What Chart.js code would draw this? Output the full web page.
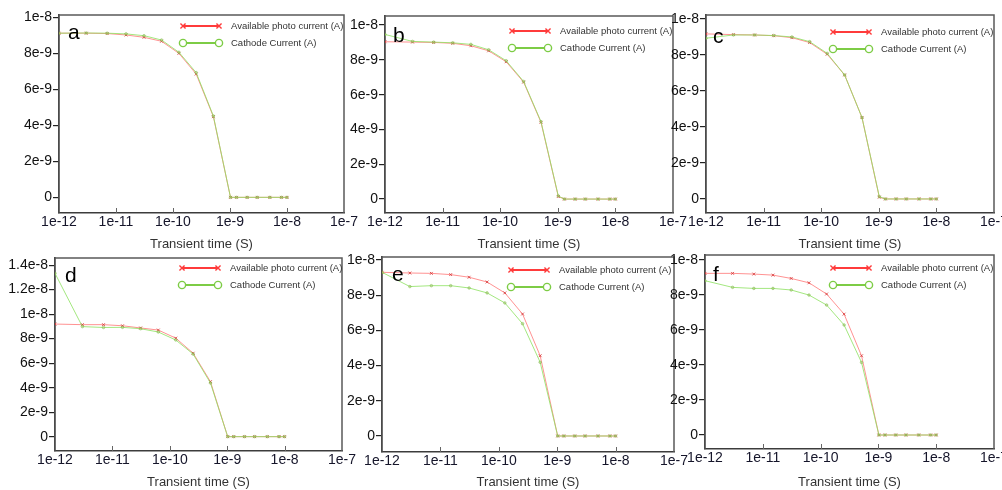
<!DOCTYPE html>
<html>
<head>
<meta charset="utf-8">
<script src="https://cdn.jsdelivr.net/npm/chart.js"></script>
<style>
  body { margin: 0; background: #fff; width: 1002px; height: 490px; overflow: hidden; position: relative; }
  canvas { position: absolute; }
</style>
</head>
<body>
<canvas id="pa"></canvas>
<canvas id="pb"></canvas>
<canvas id="pc"></canvas>
<canvas id="pd"></canvas>
<canvas id="pe"></canvas>
<canvas id="pf"></canvas>
<script>
// ---------------- data ----------------
const timeS = [1e-12, 3e-12, 7e-12, 1.5e-11, 3.1e-11, 6.3e-11, 1.27e-10, 2.55e-10, 5.11e-10, 1.02e-9, 1.3e-9, 2e-9, 3e-9, 5e-9, 8e-9, 1e-8];

const xTicks = [1e-12, 1e-11, 1e-10, 1e-9, 1e-8, 1e-7];
const xTickLabels = ["1e-12", "1e-11", "1e-10", "1e-9", "1e-8", "1e-7"];

const yTicks = [0, 2e-9, 4e-9, 6e-9, 8e-9, 1e-8];
const yTickLabels = ["0", "2e-9", "4e-9", "6e-9", "8e-9", "1e-8"];
const yTicksD = [0, 2e-9, 4e-9, 6e-9, 8e-9, 1e-8, 1.2e-8, 1.4e-8];
const yTickLabelsD = ["0", "2e-9", "4e-9", "6e-9", "8e-9", "1e-8", "1.2e-8", "1.4e-8"];

const seriesNames = ["Available photo current (A)", "Cathode Current (A)"];
const xTitle = "Transient time (S)";

const photoA   = [9.12e-9, 9.12e-9, 9.10e-9, 9.02e-9, 8.89e-9, 8.67e-9, 8.00e-9, 6.85e-9, 4.48e-9, 0, 0, 0, 0, 0, 0, 0];
const cathodeA = [9.12e-9, 9.13e-9, 9.12e-9, 9.08e-9, 8.98e-9, 8.74e-9, 8.06e-9, 6.93e-9, 4.52e-9, 0, 0, 0, 0, 0, 0, 0];

const photoB   = [9.04e-9, 9.02e-9, 9.00e-9, 8.95e-9, 8.81e-9, 8.52e-9, 7.89e-9, 6.72e-9, 4.41e-9, 0.15e-9, 0, 0, 0, 0, 0, 0];
const cathodeB = [9.46e-9, 9.06e-9, 9.02e-9, 8.98e-9, 8.89e-9, 8.58e-9, 7.95e-9, 6.76e-9, 4.45e-9, 0.18e-9, 0, 0, 0, 0, 0, 0];

const photoC   = [9.17e-9, 9.13e-9, 9.11e-9, 9.07e-9, 8.96e-9, 8.69e-9, 8.04e-9, 6.89e-9, 4.52e-9, 0.10e-9, 0, 0, 0, 0, 0, 0];
const cathodeC = [8.93e-9, 9.11e-9, 9.11e-9, 9.08e-9, 9.00e-9, 8.74e-9, 8.09e-9, 6.89e-9, 4.52e-9, 0.13e-9, 0, 0, 0, 0, 0, 0];

const photoD   = [9.19e-9, 9.14e-9, 9.14e-9, 9.05e-9, 8.87e-9, 8.70e-9, 8.04e-9, 6.81e-9, 4.49e-9, 0, 0, 0, 0, 0, 0, 0];
const cathodeD = [13.33e-9, 8.98e-9, 8.91e-9, 8.92e-9, 8.81e-9, 8.54e-9, 7.89e-9, 6.74e-9, 4.38e-9, 0, 0, 0, 0, 0, 0, 0];

const photoE   = [9.30e-9, 9.26e-9, 9.24e-9, 9.17e-9, 9.02e-9, 8.75e-9, 8.13e-9, 6.93e-9, 4.56e-9, 0, 0, 0, 0, 0, 0, 0];
const cathodeE = [9.30e-9, 8.49e-9, 8.54e-9, 8.54e-9, 8.41e-9, 8.13e-9, 7.56e-9, 6.38e-9, 4.19e-9, 0, 0, 0, 0, 0, 0, 0];

const photoF   = [9.24e-9, 9.24e-9, 9.20e-9, 9.14e-9, 8.95e-9, 8.70e-9, 8.06e-9, 6.91e-9, 4.53e-9, 0, 0, 0, 0, 0, 0, 0];
const cathodeF = [8.82e-9, 8.44e-9, 8.38e-9, 8.38e-9, 8.29e-9, 8.00e-9, 7.43e-9, 6.29e-9, 4.15e-9, 0, 0, 0, 0, 0, 0, 0];

// ---------------- layout (page pixels) ----------------
const FONT = "'Liberation Sans', Arial, sans-serif";

const panels = [
  { id: "pa", letter: "a", photo: photoA, cathode: cathodeA, yT: yTicks, yL: yTickLabels, yMin: -0.87e-9, yMax: 1.013e-8,
    box: { x: 0, y: 0, w: 372, h: 262 }, area: { l: 59, t: 15, r: 344, b: 213 }, titlePad: 10,
    leg: { x: 183, y: 26 }, let: { x: 68, y: 39 } },
  { id: "pb", letter: "b", photo: photoB, cathode: cathodeB, yT: yTicks, yL: yTickLabels, yMin: -0.80e-9, yMax: 1.052e-8,
    box: { x: 345, y: 0, w: 350, h: 262 }, area: { l: 385, t: 16, r: 673, b: 213 }, titlePad: 10,
    leg: { x: 512, y: 31 }, let: { x: 393, y: 41.5 } },
  { id: "pc", letter: "c", photo: photoC, cathode: cathodeC, yT: yTicks, yL: yTickLabels, yMin: -0.78e-9, yMax: 1.022e-8,
    box: { x: 660, y: 0, w: 342, h: 262 }, area: { l: 706, t: 15, r: 994, b: 213 }, titlePad: 10,
    leg: { x: 833, y: 32 }, let: { x: 713, y: 42.5 } },
  { id: "pd", letter: "d", photo: photoD, cathode: cathodeD, yT: yTicksD, yL: yTickLabelsD, yMin: -1.17e-9, yMax: 1.458e-8,
    box: { x: 0, y: 245, w: 372, h: 245 }, area: { l: 55, t: 258, r: 342, b: 451 }, titlePad: 0,
    leg: { x: 182, y: 268 }, let: { x: 65, y: 281.5 } },
  { id: "pe", letter: "e", photo: photoE, cathode: cathodeE, yT: yTicks, yL: yTickLabels, yMin: -0.91e-9, yMax: 1.017e-8,
    box: { x: 345, y: 245, w: 350, h: 245 }, area: { l: 382, t: 257, r: 674, b: 452 }, titlePad: 0,
    leg: { x: 511, y: 270 }, let: { x: 392, y: 280.5 } },
  { id: "pf", letter: "f", photo: photoF, cathode: cathodeF, yT: yTicks, yL: yTickLabels, yMin: -0.80e-9, yMax: 1.029e-8,
    box: { x: 660, y: 245, w: 342, h: 245 }, area: { l: 705, t: 255, r: 994, b: 449 }, titlePad: 0,
    leg: { x: 833, y: 268 }, let: { x: 713, y: 281 } }
];

// top/right frame + small inward x ticks
const framePlugin = {
  id: "frame",
  beforeDatasetsDraw(chart) {
    const { ctx, chartArea: a, scales: { x } } = chart;
    ctx.save();
    ctx.strokeStyle = "#5a5a5a";
    ctx.lineWidth = 1.5;
    ctx.beginPath();
    ctx.moveTo(a.left, a.top);
    ctx.lineTo(a.right, a.top);
    ctx.lineTo(a.right, a.bottom);
    ctx.stroke();
    ctx.strokeStyle = "#666";
    ctx.lineWidth = 1;
    xTicks.slice(1, -1).forEach(v => {
      const px = Math.round(x.getPixelForValue(v)) + 0.5;
      ctx.beginPath();
      ctx.moveTo(px, a.bottom);
      ctx.lineTo(px, a.bottom - 5);
      ctx.stroke();
    });
    ctx.restore();
  }
};

// legend with a marker at each end of the line, and the panel letter
const decoPlugin = {
  id: "deco",
  afterDraw(chart, args, opts) {
    const ctx = chart.ctx;
    const rows = [
      { name: seriesNames[0], color: "#ff3b3b", style: "crossRot" },
      { name: seriesNames[1], color: "#7dcc45", style: "circle" }
    ];
    ctx.save();
    rows.forEach((r, i) => {
      const y = opts.legY + i * 17;
      const x0 = opts.legX;
      ctx.strokeStyle = r.color;
      ctx.lineWidth = 2;
      ctx.beginPath();
      ctx.moveTo(x0, y);
      ctx.lineTo(x0 + 36, y);
      ctx.stroke();
      ctx.fillStyle = "#fff";
      ctx.lineWidth = 1.4;
      [x0, x0 + 36].forEach(px => {
        Chart.helpers.drawPoint(ctx, { pointStyle: r.style, radius: 3.6, borderWidth: 1.4 }, px, y);
      });
      ctx.fillStyle = "#333";
      ctx.font = "9.5px " + FONT;
      ctx.textBaseline = "middle";
      ctx.textAlign = "left";
      ctx.fillText(r.name, x0 + 48, y);
    });
    ctx.fillStyle = "#000";
    ctx.font = "21px " + FONT;
    ctx.textBaseline = "alphabetic";
    ctx.fillText(opts.letter, opts.letX, opts.letY);
    ctx.restore();
  }
};

function makePanel(p) {
  const cv = document.getElementById(p.id);
  cv.width = p.box.w;
  cv.height = p.box.h;
  cv.style.left = p.box.x + "px";
  cv.style.top = p.box.y + "px";

  const L = p.area.l - p.box.x;
  const R = p.area.r - p.box.x;
  const T = p.area.t - p.box.y;
  const B = p.area.b - p.box.y;

  new Chart(cv, {
    type: "line",
    data: {
      datasets: [
        {
          label: seriesNames[0],
          data: timeS.map((t, i) => ({ x: t, y: p.photo[i] })),
          order: 1,
          borderColor: "rgba(255,100,100,0.7)",
          borderWidth: 1,
          pointStyle: "crossRot",
          pointRadius: 2,
          pointBorderWidth: 1,
          pointBorderColor: "rgba(215,60,60,0.85)",
          pointBackgroundColor: "rgba(215,60,60,0.85)",
          tension: 0
        },
        {
          label: seriesNames[1],
          data: timeS.map((t, i) => ({ x: t, y: p.cathode[i] })),
          order: 0,
          borderColor: "rgba(140,225,95,0.8)",
          borderWidth: 1,
          pointStyle: "circle",
          pointRadius: 1.3,
          pointBorderWidth: 0.8,
          pointBorderColor: "rgba(120,185,70,0.6)",
          pointBackgroundColor: "rgba(170,195,110,0.5)",
          tension: 0
        }
      ]
    },
    options: {
      responsive: false,
      animation: false,
      devicePixelRatio: 1,
      events: [],
      layout: { padding: { left: 0, top: T, right: p.box.w - R, bottom: 0 } },
      plugins: {
        legend: { display: false },
        tooltip: { enabled: false },
        deco: {
          legX: p.leg.x - p.box.x, legY: p.leg.y - p.box.y,
          letter: p.letter, letX: p.let.x - p.box.x, letY: p.let.y - p.box.y
        }
      },
      scales: {
        x: {
          type: "logarithmic",
          position: "bottom",
          min: 1e-12,
          max: 1e-7,
          afterBuildTicks: s => { s.ticks = xTicks.map(v => ({ value: v })); },
          afterFit: s => { s.height = p.box.h - B; s.paddingLeft = 0; s.paddingRight = 0; },
          grid: { display: false, drawTicks: false },
          border: { display: true, color: "#3c3c3c", width: 1.6 },
          ticks: {
            autoSkip: false, maxRotation: 0, padding: 1,
            color: "#15152a",
            font: { family: FONT, size: 14 },
            callback: (v, i) => xTickLabels[i]
          },
          title: {
            display: true, text: xTitle, color: "#333",
            font: { family: FONT, size: 13 },
            padding: { top: 0, bottom: p.titlePad }
          }
        },
        y: {
          min: p.yMin,
          max: p.yMax,
          afterBuildTicks: s => { s.ticks = p.yT.map(v => ({ value: v })); },
          afterFit: s => { s.width = L; s.paddingTop = 0; s.paddingBottom = 0; },
          grid: { drawOnChartArea: false, drawTicks: true, tickLength: 6, color: "#222", lineWidth: 1.2 },
          border: { display: true, color: "#4a4a4a", width: 1.8 },
          ticks: {
            padding: 1,
            color: "#111",
            font: { family: FONT, size: 14 },
            callback: (v, i) => p.yL[i]
          }
        }
      }
    },
    plugins: [framePlugin, decoPlugin]
  });
}

panels.forEach(makePanel);
</script>
</body>
</html>
